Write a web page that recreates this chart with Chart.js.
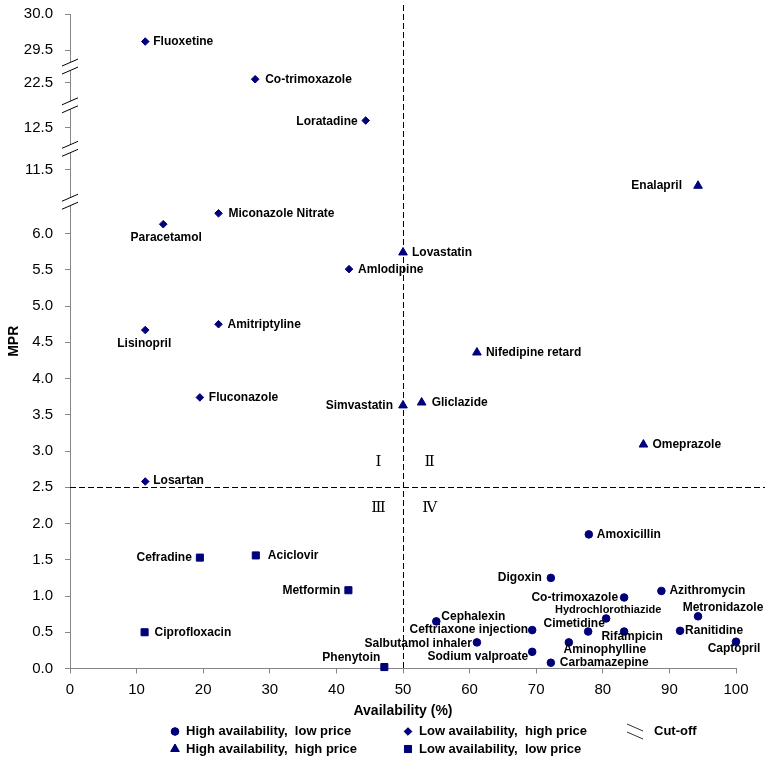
<!DOCTYPE html>
<html>
<head>
<meta charset="utf-8">
<script src="https://cdn.jsdelivr.net/npm/chart.js@4.4.1/dist/chart.umd.min.js"></script>
<style>
  html, body { margin: 0; padding: 0; background: #fff; }
  #wrap { width: 774px; height: 763px; }
</style>
</head>
<body>
<div id="wrap"><canvas id="mprChart" width="774" height="763"></canvas></div>
<script>
// High availability, low price
const hlNames = ['Amoxicillin', 'Digoxin', 'Azithromycin', 'Co-trimoxazole', 'Metronidazole', 'Hydrochlorothiazide',
  'Cephalexin', 'Ceftriaxone injection', 'Cimetidine', 'Rifampicin', 'Ranitidine', 'Salbutamol inhaler',
  'Aminophylline', 'Captopril', 'Sodium valproate', 'Carbamazepine'];
const hlAvail = [77.9, 72.2, 88.8, 83.2, 94.3, 80.5, 55.0, 69.4, 77.8, 83.2, 91.6, 61.1, 74.9, 100, 69.4, 72.2];
const hlMpr = [1.85, 1.25, 1.07, 0.98, 0.72, 0.69, 0.65, 0.53, 0.51, 0.51, 0.52, 0.36, 0.36, 0.37, 0.23, 0.08];

// Low availability, high price
const lhNames = ['Fluoxetine', 'Co-trimoxazole', 'Loratadine', 'Miconazole Nitrate', 'Paracetamol', 'Amlodipine',
  'Amitriptyline', 'Lisinopril', 'Fluconazole', 'Losartan'];
const lhAvail = [11.3, 27.8, 44.4, 22.3, 14.0, 41.9, 22.3, 11.3, 19.5, 11.3];
const lhMpr = [29.62, 22.55, 12.6, 6.28, 6.13, 5.51, 4.75, 4.67, 3.74, 2.58];

// High availability, high price
const hhNames = ['Enalapril', 'Lovastatin', 'Nifedipine retard', 'Gliclazide', 'Simvastatin', 'Omeprazole'];
const hhAvail = [94.3, 50.0, 61.1, 52.8, 50.0, 86.1];
const hhMpr = [11.28, 5.74, 4.36, 3.67, 3.63, 3.09];

// Low availability, low price
const llNames = ['Cefradine', 'Aciclovir', 'Metformin', 'Ciprofloxacin', 'Phenytoin'];
const llAvail = [19.5, 27.9, 41.8, 11.2, 47.2];
const llMpr = [1.53, 1.56, 1.08, 0.50, 0.02];

const seriesNames = ['High availability,  low price', 'Low availability,  high price',
  'High availability,  high price', 'Low availability,  low price'];
const cutoffLabel = 'Cut-off';
const cutoffAvailability = 50;
const cutoffMpr = 2.5;

// broken y axis
const yTickValues = [0, 0.5, 1, 1.5, 2, 2.5, 3, 3.5, 4, 4.5, 5, 5.5, 6, 11.5, 12.5, 22.5, 29.5, 30];
const yTickLabels = ['0.0', '0.5', '1.0', '1.5', '2.0', '2.5', '3.0', '3.5', '4.0', '4.5', '5.0', '5.5', '6.0',
  '11.5', '12.5', '22.5', '29.5', '30.0'];
const xTickLabels = ['0', '10', '20', '30', '40', '50', '60', '70', '80', '90', '100'];

// each piece of the broken axis: values from `start` up are drawn relative to `base`, placed at `at`
const axisPieces = [
  { start: -Infinity, base: 0, at: 0 },
  { start: 9, base: 11.5, at: 6.88 },
  { start: 12, base: 12.5, at: 7.46 },
  { start: 17.5, base: 22.5, at: 8.08 },
  { start: 26, base: 29.5, at: 8.53 }
];
const pieceOf = v => {
  let idx = 0;
  axisPieces.forEach((p, i) => { if (v >= p.start) idx = i; });
  return idx;
};
const toAxis = v => {
  const p = axisPieces[pieceOf(v)];
  return p.at + (v - p.base);
};

const navy = '#00007a';
const toPoints = (avail, mpr) => avail.map((a, i) => ({ x: a, y: toAxis(mpr[i]) }));

// label placement: [textAlign, dx, dy, fontSize]
const labelSpots = [
  { // high availability, low price
    'Amoxicillin': ['left', 8, 0], 'Digoxin': ['right', -9, 0], 'Azithromycin': ['left', 8, 0],
    'Co-trimoxazole': ['right', -6, 0], 'Metronidazole': ['center', 25, -9],
    'Hydrochlorothiazide': ['center', 2, -9, 11], 'Cephalexin': ['left', 5, -5],
    'Ceftriaxone injection': ['right', -4, 0], 'Cimetidine': ['center', -14, -8],
    'Rifampicin': ['center', 8, 5], 'Ranitidine': ['left', 5, 0], 'Salbutamol inhaler': ['right', -5, 1],
    'Aminophylline': ['center', 36, 7], 'Captopril': ['center', -2, 7],
    'Sodium valproate': ['right', -4, 5], 'Carbamazepine': ['left', 9, 0]
  },
  { // low availability, high price
    'Fluoxetine': ['left', 8, 0], 'Co-trimoxazole': ['left', 10, 0], 'Loratadine': ['right', -8, 1],
    'Miconazole Nitrate': ['left', 10, 0], 'Paracetamol': ['center', 3, 13], 'Amlodipine': ['left', 9, 1],
    'Amitriptyline': ['left', 9, 0], 'Lisinopril': ['center', -1, 14], 'Fluconazole': ['left', 9, 0],
    'Losartan': ['left', 8, -1]
  },
  { // high availability, high price
    'Enalapril': ['right', -16, 0], 'Lovastatin': ['left', 9, 0], 'Nifedipine retard': ['left', 9, 0],
    'Gliclazide': ['left', 10, 0], 'Simvastatin': ['right', -10, 0], 'Omeprazole': ['left', 9, 0]
  },
  { // low availability, low price
    'Cefradine': ['right', -8, 0], 'Aciclovir': ['left', 12, 0], 'Metformin': ['right', -8, 0],
    'Ciprofloxacin': ['left', 10, 0], 'Phenytoin': ['right', -4, -9]
  }
];

const quadrantMarks = [['Ⅰ', 46.3, 2.85], ['Ⅱ', 54, 2.85], ['Ⅲ', 46.3, 2.21], ['Ⅳ', 54, 2.21]];

const FONT = '"Liberation Sans", Arial, sans-serif';
Chart.defaults.font.family = FONT;
Chart.defaults.color = '#000';

// cut-off lines and quadrant numbers
const quadrantPlugin = {
  id: 'quadrants',
  beforeDatasetsDraw(chart) {
    const { ctx, chartArea, scales: { x, y } } = chart;
    const cx = x.getPixelForValue(cutoffAvailability);
    const cy = y.getPixelForValue(toAxis(cutoffMpr));
    ctx.save();
    ctx.strokeStyle = '#000';
    ctx.lineWidth = 1;
    ctx.setLineDash([6, 3]);
    ctx.beginPath();
    ctx.moveTo(Math.round(cx) + 0.5, chartArea.top - 9);
    ctx.lineTo(Math.round(cx) + 0.5, chartArea.bottom);
    ctx.moveTo(chartArea.left, Math.round(cy) + 0.5);
    ctx.lineTo(chartArea.right + 29, Math.round(cy) + 0.5);
    ctx.stroke();
    ctx.setLineDash([]);
    ctx.font = '15px "DejaVu Serif", "Liberation Serif", serif';
    ctx.fillStyle = '#000';
    ctx.textAlign = 'center';
    ctx.textBaseline = 'middle';
    quadrantMarks.forEach(([t, qx, qy]) => {
      ctx.fillText(t, x.getPixelForValue(qx), y.getPixelForValue(qy));
    });
    ctx.restore();
  }
};

// drug names next to their points
const labelPlugin = {
  id: 'pointLabels',
  afterDatasetsDraw(chart) {
    const { ctx } = chart;
    ctx.save();
    ctx.fillStyle = '#000';
    ctx.textBaseline = 'middle';
    chart.data.datasets.forEach((ds, di) => {
      const meta = chart.getDatasetMeta(di);
      ds.names.forEach((name, i) => {
        const pt = meta.data[i];
        const [align, dx, dy, size] = labelSpots[di][name] || ['left', 8, 0];
        ctx.font = 'bold ' + (size || 12) + 'px ' + FONT;
        ctx.textAlign = align;
        ctx.fillText(name, pt.x + dx, pt.y + dy);
      });
    });
    ctx.restore();
  }
};

// "//" marks where the y axis is broken
const breakPlugin = {
  id: 'axisBreaks',
  afterDraw(chart) {
    const { ctx, scales: { y } } = chart;
    const ax = y.right;
    ctx.save();
    for (let i = 1; i < yTickValues.length; i++) {
      if (pieceOf(yTickValues[i]) === pieceOf(yTickValues[i - 1])) continue;
      const mid = (toAxis(yTickValues[i]) + toAxis(yTickValues[i - 1])) / 2;
      const py = y.getPixelForValue(mid);
      ctx.fillStyle = '#fff';
      ctx.fillRect(ax - 2, py - 4, 4, 8);
      ctx.strokeStyle = '#000';
      ctx.lineWidth = 1;
      ctx.beginPath();
      [-4, 4].forEach(s => {
        ctx.moveTo(ax - 8, py + s + 3.5);
        ctx.lineTo(ax + 8, py + s - 3.5);
      });
      ctx.stroke();
    }
    ctx.restore();
  }
};

// legend under the axis title
const legendPlugin = {
  id: 'bottomLegend',
  afterDraw(chart) {
    const { ctx } = chart;
    const rows = [731.5, 749];
    const cols = [175, 408];
    const order = [[0, 0, 0], [1, 0, 1], [2, 1, 0], [3, 1, 1]]; // dataset, row, col
    ctx.save();
    ctx.font = 'bold 13px ' + FONT;
    ctx.textBaseline = 'middle';
    ctx.textAlign = 'left';
    order.forEach(([di, r, c]) => {
      const ds = chart.data.datasets[di];
      Chart.helpers.drawPoint(ctx, {
        pointStyle: ds.pointStyle, radius: ds.pointRadius, borderWidth: 1, rotation: 0
      }, cols[c], rows[r]);
      ctx.fillStyle = navy;
      ctx.strokeStyle = navy;
      ctx.fill();
      ctx.fillStyle = '#000';
      ctx.fillText(seriesNames[di], cols[c] + 11, rows[r]);
    });
    ctx.strokeStyle = '#333';
    ctx.lineWidth = 1;
    ctx.beginPath();
    ctx.moveTo(627, 724); ctx.lineTo(643, 731);
    ctx.moveTo(627, 732); ctx.lineTo(643, 739);
    ctx.stroke();
    ctx.fillStyle = '#000';
    ctx.fillText(cutoffLabel, 654, rows[0]);
    ctx.restore();
  }
};

const makeSet = (label, names, avail, mpr, style, radius) => ({
  label,
  names,
  data: toPoints(avail, mpr),
  pointStyle: style,
  pointRadius: radius,
  backgroundColor: navy,
  borderColor: navy,
  borderWidth: 1,
  clip: false
});

new Chart(document.getElementById('mprChart'), {
  type: 'scatter',
  data: {
    datasets: [
      makeSet(seriesNames[0], hlNames, hlAvail, hlMpr, 'circle', 3.8),
      makeSet(seriesNames[1], lhNames, lhAvail, lhMpr, 'rectRot', 3.8),
      makeSet(seriesNames[2], hhNames, hhAvail, hhMpr, 'triangle', 5),
      makeSet(seriesNames[3], llNames, llAvail, llMpr, 'rect', 5)
    ]
  },
  options: {
    responsive: false,
    animation: false,
    layout: { padding: { left: 0, right: 38, top: 14, bottom: 43.6 } },
    plugins: { legend: { display: false }, tooltip: { enabled: false } },
    scales: {
      x: {
        min: 0,
        max: 100,
        afterFit: s => { s.height = 50.9; },
        ticks: {
          stepSize: 10,
          font: { size: 15 },
          padding: 7,
          callback: (v, i) => xTickLabels[i]
        },
        grid: { drawOnChartArea: false, tickLength: 5, color: '#868686' },
        border: { color: '#868686' },
        title: { display: true, text: 'Availability (%)', font: { size: 14, weight: 'bold' }, padding: 0 }
      },
      y: {
        min: 0,
        max: 9.03,
        afterFit: s => { s.width = 70; s.paddingTop = 0; s.paddingBottom = 0; },
        afterBuildTicks: s => { s.ticks = yTickValues.map(v => ({ value: toAxis(v) })); },
        ticks: {
          autoSkip: false,
          font: { size: 15 },
          padding: 12,
          callback: (v, i) => yTickLabels[i]
        },
        grid: { drawOnChartArea: false, tickLength: 5, color: '#868686' },
        border: { color: '#868686' },
        title: { display: true, text: 'MPR', font: { size: 14, weight: 'bold' }, padding: { top: 5.6, bottom: 0 } }
      }
    }
  },
  plugins: [quadrantPlugin, labelPlugin, breakPlugin, legendPlugin]
});
</script>
</body>
</html>
